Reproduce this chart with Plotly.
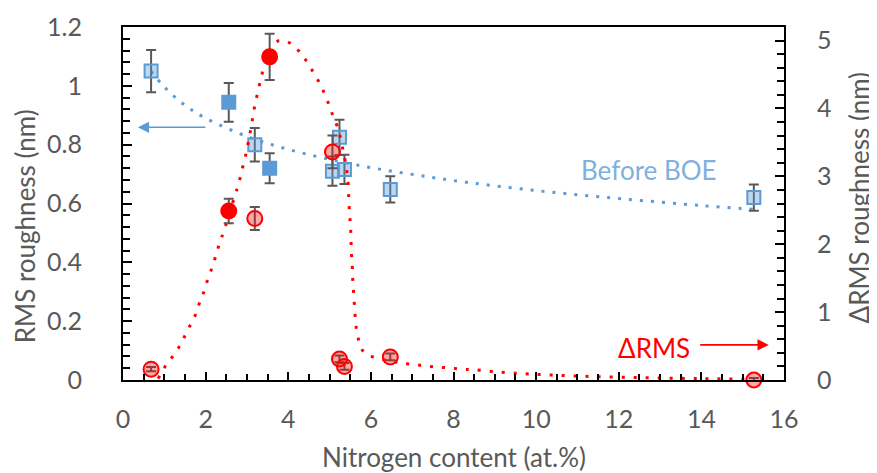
import plotly.graph_objects as go

# ---- data ----
nitrogen = [0.68, 2.56, 3.19, 3.55, 5.07, 5.24, 5.36, 6.47, 15.27]
rms_before = [1.05, 0.944, 0.80, 0.72, 0.71, 0.825, 0.716, 0.648, 0.62]
rms_before_err = [0.072, 0.066, 0.057, 0.051, 0.05, 0.06, 0.05, 0.045, 0.045]
delta_rms = [0.16, 2.49, 2.38, 4.76, 3.36, 0.31, 0.20, 0.34, 0.0]
delta_rms_err = [0.03, 0.18, 0.17, 0.34, 0.24, 0.05, 0.05, 0.05, 0.03]
solid = [False, True, False, True, False, False, False, False, False]

# trend curves
trend_before_x = [0.68, 1.0, 1.5, 2.0, 3.0, 4.0, 5.0, 6.0, 7.0, 8.0, 10.0, 12.0, 14.0, 15.27]
trend_before_y = [1.05, 0.996, 0.934, 0.890, 0.828, 0.784, 0.750, 0.722, 0.699, 0.678, 0.644, 0.617, 0.593, 0.580]

trend_delta_x = [0.85, 1.00, 1.18, 1.35, 1.49, 1.63, 1.76, 1.86, 1.97, 2.06, 2.16, 2.25, 2.34, 2.44,
                 2.71, 2.80, 2.87, 2.95, 3.01, 3.12, 3.17, 3.23, 3.30, 3.37, 3.55, 3.77, 4.05,
                 4.28, 4.45, 4.61, 4.76, 4.89, 5.00, 5.10, 5.22, 5.28, 5.35, 5.40, 5.44, 5.47,
                 5.49, 5.51, 5.53, 5.55, 5.56, 5.58, 5.60, 5.62, 5.65, 5.71, 5.83, 6.10, 6.67,
                 6.99, 7.29, 7.59, 7.89, 8.20, 8.49, 9.5, 10.91, 12.5, 14.0, 15.27]
trend_delta_y = [0.02, 0.18, 0.33, 0.48, 0.64, 0.81, 0.97, 1.15, 1.32, 1.50, 1.66, 1.84, 2.02, 2.19,
                 2.72, 2.89, 3.07, 3.26, 3.43, 3.79, 3.98, 4.15, 4.34, 4.52, 4.82, 5.00, 4.96,
                 4.83, 4.69, 4.53, 4.37, 4.20, 4.03, 3.86, 3.68, 3.51, 3.32, 3.15, 2.97, 2.60,
                 2.41, 2.23, 1.86, 1.67, 1.49, 1.31, 1.12, 0.94, 0.75, 0.58, 0.41, 0.33, 0.26,
                 0.23, 0.21, 0.19, 0.18, 0.16, 0.15, 0.10, 0.06, 0.035, 0.02, 0.01]

BLUE = "#5B9BD5"
RED = "#FF0000"
GRAY = "#595959"
FONT = "Lato"

fig = go.Figure()

fig.add_trace(go.Scatter(x=trend_before_x, y=trend_before_y, mode="lines",
                         line=dict(color=BLUE, width=3, dash="3px,8px", shape="spline"),
                         hoverinfo="skip", showlegend=False))
fig.add_trace(go.Scatter(x=trend_delta_x, y=trend_delta_y, mode="lines", yaxis="y2",
                         line=dict(color=RED, width=3, dash="3px,9px", shape="spline"),
                         hoverinfo="skip", showlegend=False))

blue_fill = [BLUE if s else "rgba(91,155,213,0.40)" for s in solid]
red_fill = [RED if s else "rgba(255,0,0,0.35)" for s in solid]

fig.add_trace(go.Scatter(
    x=nitrogen, y=rms_before, mode="markers", showlegend=False, cliponaxis=False,
    marker=dict(symbol="square", size=13, color=blue_fill, line=dict(color=BLUE, width=2)),
    error_y=dict(type="data", array=rms_before_err, color=GRAY, thickness=2, width=5)))

fig.add_trace(go.Scatter(
    x=nitrogen, y=delta_rms, mode="markers", yaxis="y2", showlegend=False, cliponaxis=False,
    marker=dict(symbol="circle", size=15, color=red_fill, line=dict(color=RED, width=2)),
    error_y=dict(type="data", array=delta_rms_err, color=GRAY, thickness=2, width=5)))

tickfont = dict(family=FONT, size=25, color=GRAY)

# page body has an 8px margin, so the figure is sized/offset to land the plot
# area at the reference position
fig.update_layout(
    width=869, height=465,
    margin=dict(l=115, r=93, t=19, b=93, autoexpand=False),
    plot_bgcolor="white", paper_bgcolor="white",
    font=dict(family=FONT, color=GRAY),
    xaxis=dict(range=[0, 16], dtick=2, tick0=0, showgrid=False, zeroline=False, automargin=False,
               showline=True, linecolor="black", linewidth=2, mirror=True,
               ticks="inside", ticklen=8, tickwidth=2, tickcolor="black",
               minor=dict(dtick=0.5, ticks="inside", ticklen=6, tickwidth=1.5, tickcolor="black"),
               tickfont=tickfont, ticklabelstandoff=16),
    yaxis=dict(range=[0, 1.2], dtick=0.2, tick0=0, showgrid=False, zeroline=False, automargin=False,
               showline=True, linecolor="black", linewidth=2,
               ticks="inside", ticklen=9, tickwidth=2, tickcolor="black",
               minor=dict(dtick=0.04, ticks="inside", ticklen=7, tickwidth=1.5, tickcolor="black"),
               tickfont=tickfont, ticklabelstandoff=34),
    yaxis2=dict(range=[0, 5.2], dtick=1, tick0=0, overlaying="y", side="right", automargin=False,
                showgrid=False, zeroline=False,
                showline=True, linecolor="black", linewidth=2,
                ticks="inside", ticklen=9, tickwidth=2, tickcolor="black",
                minor=dict(dtick=0.2, ticks="inside", ticklen=7, tickwidth=1.5, tickcolor="black"),
                tickfont=tickfont, ticklabelstandoff=26),
)

annots = [
    dict(text="Nitrogen content (at.%)", xref="paper", yref="paper", x=0.5, y=-0.218,
         xanchor="center", yanchor="middle", showarrow=False,
         font=dict(family=FONT, size=26, color=GRAY)),
    dict(text="RMS roughness (nm)", xref="paper", yref="paper", x=-0.148, y=0.436,
         xanchor="center", yanchor="middle", showarrow=False, textangle=-90,
         font=dict(family=FONT, size=26, color=GRAY)),
    dict(text="ΔRMS roughness (nm)", xref="paper", yref="paper", x=1.114, y=0.518,
         xanchor="center", yanchor="middle", showarrow=False, textangle=-90,
         font=dict(family=FONT, size=26, color=GRAY)),
    dict(text="Before BOE", x=12.73, y=0.713, xref="x", yref="y", showarrow=False,
         font=dict(family=FONT, size=26, color="#7FB0DE")),
    dict(text="ΔRMS", x=12.85, y=0.47, xref="x", yref="y2", showarrow=False,
         font=dict(family=FONT, size=26, color=RED)),
    dict(text="", x=0.36, y=0.859, xref="x", yref="y", showarrow=True, ax=69, ay=0,
         arrowhead=2, arrowsize=1.4, arrowwidth=1.6, arrowcolor=BLUE),
    dict(text="", x=15.63, y=0.517, xref="x", yref="y2", showarrow=True, ax=-70, ay=0,
         arrowhead=2, arrowsize=1.4, arrowwidth=1.6, arrowcolor=RED),
]
fig.update_layout(annotations=annots)

fig.write_html("out.html")
